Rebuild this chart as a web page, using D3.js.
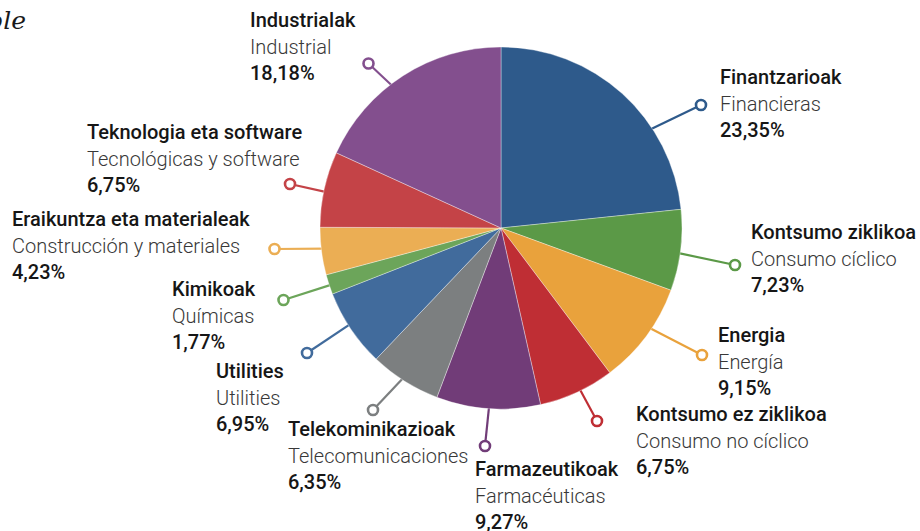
<!DOCTYPE html>
<html>
<head>
<meta charset="utf-8">
<script src="https://cdn.jsdelivr.net/npm/d3@7"></script>
<style>
    body { margin: 0; background: #fff; }
    svg { display: block; }
    .t-eu { font-family: Roboto, sans-serif; font-weight: 500; fill: #161616; }
    .t-es { font-family: Roboto, sans-serif; font-weight: 300; fill: #383838; }
    .t-pct { font-family: Roboto, sans-serif; font-weight: 500; fill: #161616; }
</style>
</head>
<body>
<div class="js-chart"></div>
<script>
'use strict';

//sectors, clockwise from 12 o'clock
var namesEu = ['Finantzarioak', 'Kontsumo ziklikoa', 'Energia', 'Kontsumo ez ziklikoa',
    'Farmazeutikoak', 'Telekominikazioak', 'Utilities', 'Kimikoak',
    'Eraikuntza eta materialeak', 'Teknologia eta software', 'Industrialak'];
var namesEs = ['Financieras', 'Consumo cíclico', 'Energía', 'Consumo no cíclico',
    'Farmacéuticas', 'Telecomunicaciones', 'Utilities', 'Químicas',
    'Construcción y materiales', 'Tecnológicas y software', 'Industrial'];
var weights = [23.35, 7.23, 9.15, 6.75, 9.27, 6.35, 6.95, 1.77, 4.23, 6.75, 18.18];
var colors = ['#2e5a8b', '#5b9947', '#e9a23c', '#bf2e34', '#713c78', '#7c7f80',
    '#416b9c', '#6ca55a', '#ebae54', '#c44347', '#834f8e'];

//label layout: where the leader leaves the pie (deg), dot and text block
var leaderAngle = [56.5, 98, 124, 154, 183.8, 213, 237.5, 251.5, 263.3, 281.6, 322.7];
var dotPos = [[701, 105], [735, 265], [702, 355], [597, 421], [485, 446], [373, 410],
    [307, 353], [283.5, 300], [274.5, 249], [290, 184], [368.5, 63.5]];
var textPos = [[720, 84], [751, 239], [718, 342], [636, 421], [475, 476], [288, 436],
    [216, 378], [172, 296], [12, 226], [87, 139], [250, 27]];

var dim = { w: 920, h: 531 };
var center = [501, 228];
var radius = 181;
var lineGap = 26.5;

var svg = d3.select('.js-chart')
    .append('svg')
    .attr('width', dim.w)
    .attr('height', dim.h);

//cropped title in the corner
svg.append('text')
    .attr('x', 26)
    .attr('y', 29)
    .attr('text-anchor', 'end')
    .style('font-family', 'DejaVu Serif, serif')
    .style('font-style', 'italic')
    .style('font-size', '25px')
    .style('fill', '#1a1a1a')
    .text('Renta variable');

var data = weights.map(function (w, i) {
    return { eu: namesEu[i], es: namesEs[i], value: w, color: colors[i],
        angle: leaderAngle[i], dot: dotPos[i], text: textPos[i] };
});

var pie = d3.pie()
    .sort(null)
    .value(function (d) { return d.value; });
var arc = d3.arc().innerRadius(0).outerRadius(radius);

var vis = svg.append('g')
    .attr('transform', 'translate(' + center[0] + ',' + center[1] + ')');

//leader lines go under the slices
var edge = d3.scaleLinear().domain([0, 360]).range([0, 2 * Math.PI]);
vis.selectAll('.js-leader').data(data).enter().append('line')
    .attr('class', 'js-leader')
    .attr('x1', function (d) { return (radius - 4) * Math.sin(edge(d.angle)); })
    .attr('y1', function (d) { return -(radius - 4) * Math.cos(edge(d.angle)); })
    .attr('x2', function (d) { return d.dot[0] - center[0]; })
    .attr('y2', function (d) { return d.dot[1] - center[1]; })
    .style('stroke', function (d) { return d.color; })
    .style('stroke-width', 2.2);

vis.selectAll('.js-slice').data(pie(data)).enter().append('path')
    .attr('class', 'js-slice')
    .attr('d', arc)
    .style('fill', function (d) { return d.data.color; })
    .style('stroke', 'rgba(255,255,255,0.45)')
    .style('stroke-width', 0.8);

vis.selectAll('.js-dot').data(data).enter().append('circle')
    .attr('class', 'js-dot')
    .attr('cx', function (d) { return d.dot[0] - center[0]; })
    .attr('cy', function (d) { return d.dot[1] - center[1]; })
    .attr('r', 5)
    .style('fill', '#fff')
    .style('stroke', function (d) { return d.color; })
    .style('stroke-width', 2.6);

//three-line labels: basque, spanish, share
var fmt = function (v) { return d3.format('.2f')(v).replace('.', ',') + '%'; };
var labels = svg.selectAll('.js-label').data(data).enter().append('text')
    .attr('class', 'js-label')
    .style('font-size', '20px');
labels.append('tspan')
    .attr('class', 't-eu')
    .attr('x', function (d) { return d.text[0]; })
    .attr('y', function (d) { return d.text[1]; })
    .text(function (d) { return d.eu; });
labels.append('tspan')
    .attr('class', 't-es')
    .attr('x', function (d) { return d.text[0]; })
    .attr('y', function (d) { return d.text[1] + lineGap; })
    .text(function (d) { return d.es; });
labels.append('tspan')
    .attr('class', 't-pct')
    .attr('x', function (d) { return d.text[0]; })
    .attr('y', function (d) { return d.text[1] + lineGap * 2; })
    .text(function (d) { return fmt(d.value); });
</script>
</body>
</html>
